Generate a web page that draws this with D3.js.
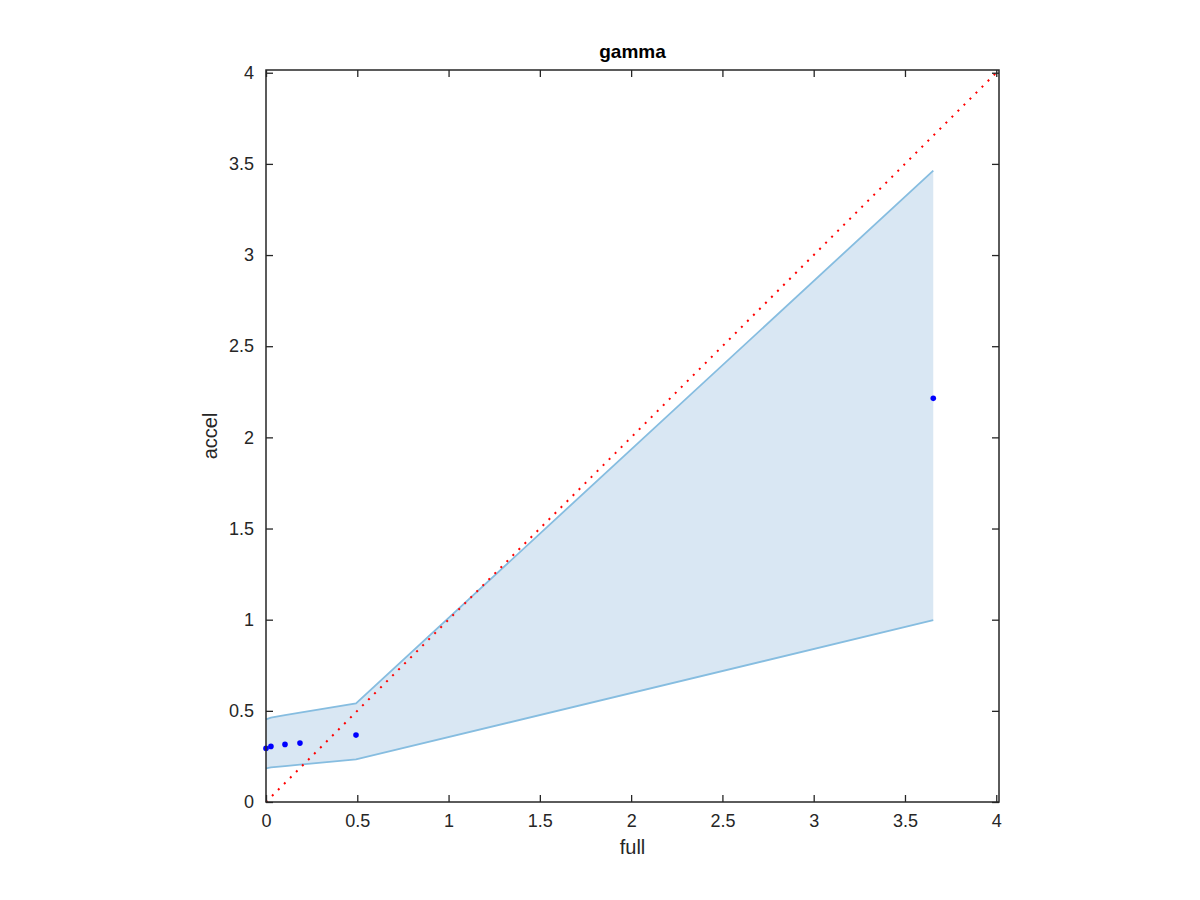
<!DOCTYPE html>
<html><head><meta charset="utf-8">
<script src="https://cdn.jsdelivr.net/npm/d3@7"></script>
<style>body{margin:0;background:#fff}svg{display:block}</style>
</head><body>
<script>
const title = "gamma";
const xLabel = "full";
const yLabel = "accel";
const pointX = [0, 0.027, 0.104, 0.186, 0.493, 3.655];
const pointY = [0.294, 0.305, 0.316, 0.323, 0.367, 2.214];
const bandUpper = [0.453, 0.463, 0.476, 0.49, 0.541, 3.463];
const bandLower = [0.185, 0.19, 0.197, 0.205, 0.234, 0.997];
const xTicks = [0, 0.5, 1, 1.5, 2, 2.5, 3, 3.5, 4];
const yTicks = [0, 0.5, 1, 1.5, 2, 2.5, 3, 3.5, 4];
const axisMax = 4.015;

const W = 1200, H = 900;
const m = {left: 266, right: 201, top: 70, bottom: 98};
const svg = d3.select("body").append("svg").attr("width", W).attr("height", H);
const x = d3.scaleLinear().domain([0, axisMax]).range([m.left, W - m.right]);
const y = d3.scaleLinear().domain([0, axisMax]).range([H - m.bottom, m.top]);
const font = "'Liberation Sans', Arial, Helvetica, sans-serif";
const ax = "#262626";

const band = pointX.map((v, i) => ({x: v, lo: bandLower[i], hi: bandUpper[i]}));
svg.append("path").datum(band)
  .attr("d", d3.area().x(d => x(d.x)).y0(d => y(d.lo)).y1(d => y(d.hi)))
  .attr("fill", "#d9e7f3").attr("stroke", "none");
svg.append("path").datum(band)
  .attr("d", d3.line().x(d => x(d.x)).y(d => y(d.hi)))
  .attr("fill", "none").attr("stroke", "#86bde0").attr("stroke-width", 1.8);
svg.append("path").datum(band)
  .attr("d", d3.line().x(d => x(d.x)).y(d => y(d.lo)))
  .attr("fill", "none").attr("stroke", "#86bde0").attr("stroke-width", 1.8);

// identity line
svg.append("line")
  .attr("x1", x(0)).attr("y1", y(0)).attr("x2", x(axisMax)).attr("y2", y(axisMax))
  .attr("stroke", "#ff0000").attr("stroke-width", 2)
  .attr("stroke-dasharray", "2,6.5");

// points
svg.selectAll("circle.pt").data(pointX.map((v, i) => [v, pointY[i]])).enter()
  .append("circle").attr("class", "pt")
  .attr("cx", d => x(d[0])).attr("cy", d => y(d[1])).attr("r", 2.8)
  .attr("fill", "#0000ff");

// axes
const xb = d3.axisBottom(x).tickValues(xTicks).tickSize(-7).tickPadding(12).tickFormat(d3.format("~g"));
const xt = d3.axisTop(x).tickValues(xTicks).tickSize(-7).tickFormat("");
const yl = d3.axisLeft(y).tickValues(yTicks).tickSize(-7).tickPadding(12).tickFormat(d3.format("~g"));
const yr = d3.axisRight(y).tickValues(yTicks).tickSize(-7).tickFormat("");
function style(g) {
  g.select(".domain").remove();
  g.selectAll("line").attr("stroke", ax).attr("stroke-width", 1.3);
  g.selectAll("text").attr("fill", ax).style("font-family", font).style("font-size", "18px");
}
svg.append("g").attr("transform", `translate(0,${H - m.bottom})`).call(xb).call(style);
svg.append("g").attr("transform", `translate(0,${m.top})`).call(xt).call(style);
svg.append("g").attr("transform", `translate(${m.left},0)`).call(yl).call(style);
svg.append("g").attr("transform", `translate(${W - m.right},0)`).call(yr).call(style);
svg.append("rect").attr("x", m.left).attr("y", m.top)
  .attr("width", W - m.right - m.left).attr("height", H - m.bottom - m.top)
  .attr("fill", "none").attr("stroke", ax).attr("stroke-width", 1.5);

svg.append("text").attr("x", (m.left + W - m.right) / 2).attr("y", 58)
  .attr("text-anchor", "middle").style("font-family", font).style("font-size", "19px")
  .style("font-weight", "bold").attr("fill", "#000").text(title);
svg.append("text").attr("x", (m.left + W - m.right) / 2).attr("y", 854)
  .attr("text-anchor", "middle").style("font-family", font).style("font-size", "20px")
  .attr("fill", ax).text(xLabel);
svg.append("text").attr("transform", `translate(217,${(m.top + H - m.bottom) / 2}) rotate(-90)`)
  .attr("text-anchor", "middle").style("font-family", font).style("font-size", "20px")
  .attr("fill", ax).text(yLabel);
</script>
</body></html>
